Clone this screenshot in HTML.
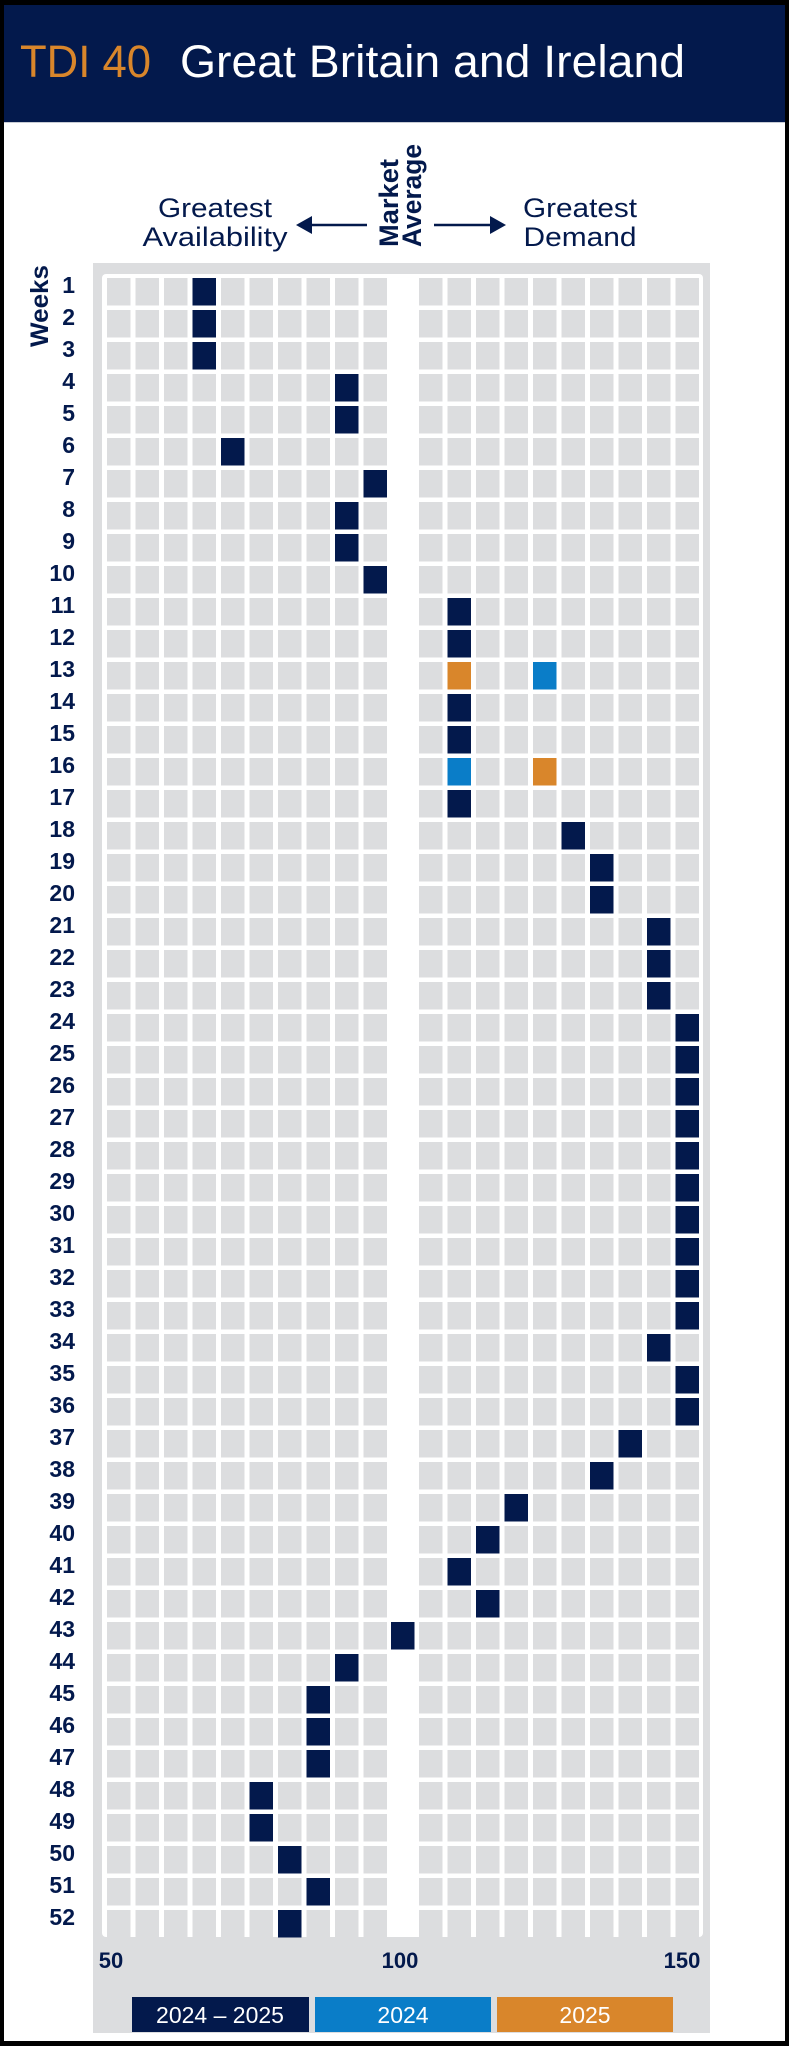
<!DOCTYPE html>
<html><head><meta charset="utf-8"><style>html,body{margin:0;padding:0;background:#000}svg{display:block}</style></head>
<body>
<svg width="789" height="2046" viewBox="0 0 789 2046" xmlns="http://www.w3.org/2000/svg" font-family="Liberation Sans, Arial, sans-serif">
<defs>
<pattern id="pl" x="107" y="278" width="28.5" height="32" patternUnits="userSpaceOnUse"><rect x="0" y="0" width="23.5" height="27.5" fill="#dcdddf"/></pattern>
<pattern id="pr" x="419" y="278" width="28.5" height="32" patternUnits="userSpaceOnUse"><rect x="0" y="0" width="23.5" height="27.5" fill="#dcdddf"/></pattern>
</defs>
<rect x="0" y="0" width="789" height="2046" fill="#000"/>
<rect x="4" y="5" width="781" height="2036" fill="#fff"/>
<rect x="4" y="5" width="781" height="117" fill="#03194c"/>
<rect x="4" y="122" width="781" height="1" fill="#c8ccd4"/>
<text x="20" y="77" font-size="45" fill="#d9862b" textLength="131" lengthAdjust="spacingAndGlyphs">TDI 40</text>
<text x="180" y="77" font-size="45" fill="#fff" textLength="505" lengthAdjust="spacingAndGlyphs">Great Britain and Ireland</text>

<g fill="#03194c" font-size="27">
<text x="215" y="217" text-anchor="middle" textLength="114" lengthAdjust="spacingAndGlyphs">Greatest</text>
<text x="215" y="246" text-anchor="middle" textLength="145" lengthAdjust="spacingAndGlyphs">Availability</text>
<text x="580" y="217" text-anchor="middle" textLength="114" lengthAdjust="spacingAndGlyphs">Greatest</text>
<text x="580" y="246" text-anchor="middle" textLength="113" lengthAdjust="spacingAndGlyphs">Demand</text>
<text transform="translate(398,247) rotate(-90)" font-weight="bold" textLength="88" lengthAdjust="spacingAndGlyphs">Market</text>
<text transform="translate(421,247) rotate(-90)" font-weight="bold" textLength="103" lengthAdjust="spacingAndGlyphs">Average</text>
<text transform="translate(48,347) rotate(-90)" font-size="25" font-weight="bold" textLength="82" lengthAdjust="spacingAndGlyphs">Weeks</text>
</g>
<line x1="306" y1="225" x2="367" y2="225" stroke="#03194c" stroke-width="2.5"/>
<polygon points="296,225 312,216 312,234" fill="#03194c"/>
<line x1="434" y1="225" x2="495" y2="225" stroke="#03194c" stroke-width="2.5"/>
<polygon points="506,225 490,216 490,234" fill="#03194c"/>

<rect x="93" y="263" width="617" height="1770" fill="#dcdddf"/>
<rect x="102" y="274" width="601" height="1663" rx="4" fill="#fff"/>
<rect x="107" y="278" width="282" height="1660" fill="url(#pl)"/>
<rect x="419" y="278" width="284" height="1660" fill="url(#pr)"/>

<g fill="#03194c">
<rect x="192.5" y="278" width="23.5" height="27.5"/>
<rect x="192.5" y="310" width="23.5" height="27.5"/>
<rect x="192.5" y="342" width="23.5" height="27.5"/>
<rect x="335" y="374" width="23.5" height="27.5"/>
<rect x="335" y="406" width="23.5" height="27.5"/>
<rect x="221" y="438" width="23.5" height="27.5"/>
<rect x="363.5" y="470" width="23.5" height="27.5"/>
<rect x="335" y="502" width="23.5" height="27.5"/>
<rect x="335" y="534" width="23.5" height="27.5"/>
<rect x="363.5" y="566" width="23.5" height="27.5"/>
<rect x="447.5" y="598" width="23.5" height="27.5"/>
<rect x="447.5" y="630" width="23.5" height="27.5"/>
<rect x="447.5" y="694" width="23.5" height="27.5"/>
<rect x="447.5" y="726" width="23.5" height="27.5"/>
<rect x="447.5" y="790" width="23.5" height="27.5"/>
<rect x="561.5" y="822" width="23.5" height="27.5"/>
<rect x="590" y="854" width="23.5" height="27.5"/>
<rect x="590" y="886" width="23.5" height="27.5"/>
<rect x="647" y="918" width="23.5" height="27.5"/>
<rect x="647" y="950" width="23.5" height="27.5"/>
<rect x="647" y="982" width="23.5" height="27.5"/>
<rect x="675.5" y="1014" width="23.5" height="27.5"/>
<rect x="675.5" y="1046" width="23.5" height="27.5"/>
<rect x="675.5" y="1078" width="23.5" height="27.5"/>
<rect x="675.5" y="1110" width="23.5" height="27.5"/>
<rect x="675.5" y="1142" width="23.5" height="27.5"/>
<rect x="675.5" y="1174" width="23.5" height="27.5"/>
<rect x="675.5" y="1206" width="23.5" height="27.5"/>
<rect x="675.5" y="1238" width="23.5" height="27.5"/>
<rect x="675.5" y="1270" width="23.5" height="27.5"/>
<rect x="675.5" y="1302" width="23.5" height="27.5"/>
<rect x="647" y="1334" width="23.5" height="27.5"/>
<rect x="675.5" y="1366" width="23.5" height="27.5"/>
<rect x="675.5" y="1398" width="23.5" height="27.5"/>
<rect x="618.5" y="1430" width="23.5" height="27.5"/>
<rect x="590" y="1462" width="23.5" height="27.5"/>
<rect x="504.5" y="1494" width="23.5" height="27.5"/>
<rect x="476" y="1526" width="23.5" height="27.5"/>
<rect x="447.5" y="1558" width="23.5" height="27.5"/>
<rect x="476" y="1590" width="23.5" height="27.5"/>
<rect x="391" y="1622" width="23.5" height="27.5"/>
<rect x="335" y="1654" width="23.5" height="27.5"/>
<rect x="306.5" y="1686" width="23.5" height="27.5"/>
<rect x="306.5" y="1718" width="23.5" height="27.5"/>
<rect x="306.5" y="1750" width="23.5" height="27.5"/>
<rect x="249.5" y="1782" width="23.5" height="27.5"/>
<rect x="249.5" y="1814" width="23.5" height="27.5"/>
<rect x="278" y="1846" width="23.5" height="27.5"/>
<rect x="306.5" y="1878" width="23.5" height="27.5"/>
<rect x="278" y="1910" width="23.5" height="27.5"/>
</g>
<rect x="447.5" y="662" width="23.5" height="27.5" fill="#d9862b"/>
<rect x="533" y="662" width="23.5" height="27.5" fill="#0a7dc8"/>
<rect x="447.5" y="758" width="23.5" height="27.5" fill="#0a7dc8"/>
<rect x="533" y="758" width="23.5" height="27.5" fill="#d9862b"/>

<g fill="#03194c" font-size="23" font-weight="bold" text-anchor="end" transform="translate(0,-6)">
<text x="75" y="299">1</text><text x="75" y="331">2</text><text x="75" y="363">3</text><text x="75" y="395">4</text>
<text x="75" y="427">5</text><text x="75" y="459">6</text><text x="75" y="491">7</text><text x="75" y="523">8</text>
<text x="75" y="555">9</text><text x="75" y="587">10</text><text x="75" y="619">11</text><text x="75" y="651">12</text>
<text x="75" y="683">13</text><text x="75" y="715">14</text><text x="75" y="747">15</text><text x="75" y="779">16</text>
<text x="75" y="811">17</text><text x="75" y="843">18</text><text x="75" y="875">19</text><text x="75" y="907">20</text>
<text x="75" y="939">21</text><text x="75" y="971">22</text><text x="75" y="1003">23</text><text x="75" y="1035">24</text>
<text x="75" y="1067">25</text><text x="75" y="1099">26</text><text x="75" y="1131">27</text><text x="75" y="1163">28</text>
<text x="75" y="1195">29</text><text x="75" y="1227">30</text><text x="75" y="1259">31</text><text x="75" y="1291">32</text>
<text x="75" y="1323">33</text><text x="75" y="1355">34</text><text x="75" y="1387">35</text><text x="75" y="1419">36</text>
<text x="75" y="1451">37</text><text x="75" y="1483">38</text><text x="75" y="1515">39</text><text x="75" y="1547">40</text>
<text x="75" y="1579">41</text><text x="75" y="1611">42</text><text x="75" y="1643">43</text><text x="75" y="1675">44</text>
<text x="75" y="1707">45</text><text x="75" y="1739">46</text><text x="75" y="1771">47</text><text x="75" y="1803">48</text>
<text x="75" y="1835">49</text><text x="75" y="1867">50</text><text x="75" y="1899">51</text><text x="75" y="1931">52</text>
</g>
<g fill="#03194c" font-size="22" font-weight="bold" text-anchor="middle">
<text x="111" y="1968">50</text><text x="400" y="1968">100</text><text x="682" y="1968">150</text>
</g>
<rect x="132" y="1997" width="177" height="35" fill="#03194c"/>
<rect x="315" y="1997" width="176" height="35" fill="#0a7dc8"/>
<rect x="497" y="1997" width="176" height="35" fill="#d9862b"/>
<g fill="#fff" font-size="23" text-anchor="middle">
<text x="220" y="2023">2024 – 2025</text><text x="403" y="2023">2024</text><text x="585" y="2023">2025</text>
</g>
</svg>
</body></html>
